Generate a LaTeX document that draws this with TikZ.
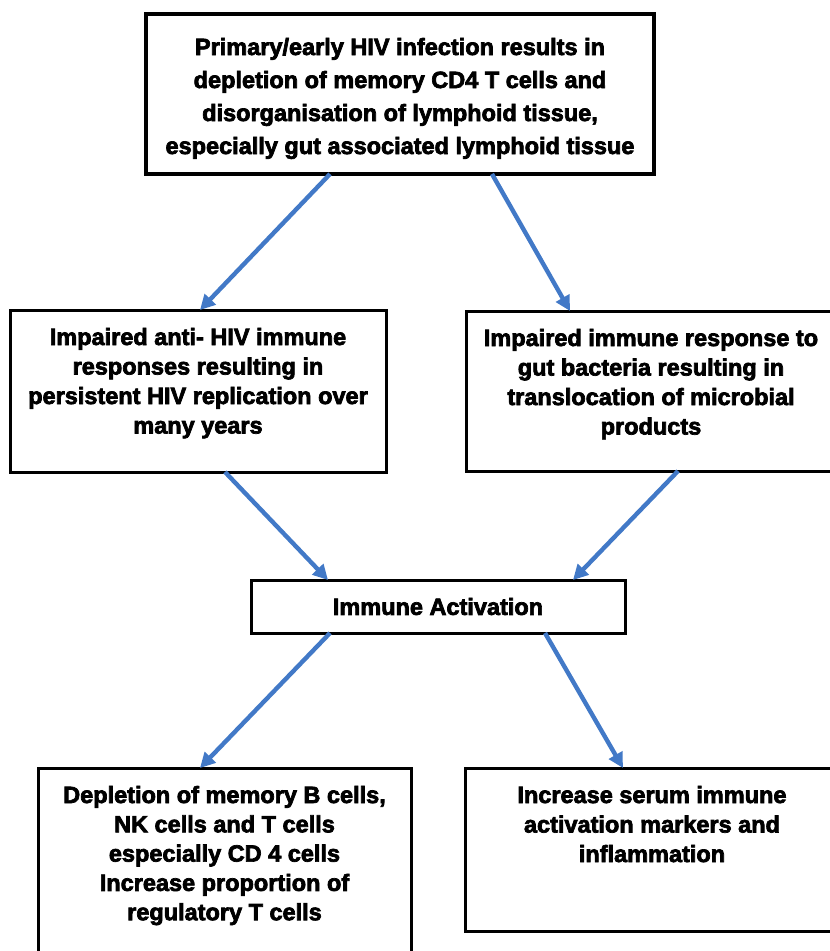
\documentclass[tikz,border=0pt]{standalone}
\usepackage{fontspec}
\setmainfont{Liberation Sans}[BoldFeatures={FakeBold=3}]
\usetikzlibrary{arrows.meta}
\definecolor{arrowblue}{RGB}{66,121,199}
\tikzset{
  box/.style={draw=black, line width=3pt, inner sep=0pt, outer sep=0pt, fill=white},
  flow/.style={draw=arrowblue, line width=4.4pt, -{Triangle[length=15pt,width=15pt]}},
}
\begin{document}
\begin{tikzpicture}[x=1pt,y=-1pt]
\useasboundingbox (0,0) rectangle (830,951);
\clip (0,0) rectangle (830,951);
\node[box, line width=3.5pt] (top) at (400,94)
  {\parbox[c][160pt][t]{508pt}{\centering\fontsize{23.5}{33}\selectfont\bfseries\vspace*{16pt}%
   \rule{0pt}{25pt}Primary/early HIV infection results in\\
   depletion of memory CD4 T cells and\\
   disorganisation of lymphoid tissue,\\
   especially gut associated lymphoid tissue}};
\node[box] (lm) at (198,391)
  {\parbox[c][162pt][t]{376pt}{\centering\fontsize{23.5}{29.5}\selectfont\bfseries\vspace*{10pt}%
   \rule{0pt}{25pt}Impaired anti- HIV immune\\
   responses resulting in\\
   persistent HIV replication over\\
   many years}};
\node[box] (rm) at (651,391)
  {\parbox[c][160pt][t]{370pt}{\centering\fontsize{23.5}{29.5}\selectfont\bfseries\vspace*{10pt}%
   \rule{0pt}{25pt}Impaired immune response to\\
   gut bacteria resulting in\\
   translocation of microbial\\
   products}};
\node[box] (ia) at (438,606.5)
  {\parbox[c][53pt][c]{374pt}{\centering\fontsize{23.5}{29.5}\selectfont\bfseries Immune Activation}};
\node[box] (bl) at (224.5,873)
  {\parbox[c][210pt][t]{373pt}{\centering\fontsize{23.5}{29.3}\selectfont\bfseries\vspace*{10pt}%
   \rule{0pt}{25pt}Depletion of memory B cells,\\
   NK cells and T cells\\
   especially CD 4 cells\\
   Increase proportion of\\
   regulatory T cells}};
\node[box] (br) at (652,849.5)
  {\parbox[c][163pt][t]{374pt}{\centering\fontsize{23.5}{29.5}\selectfont\bfseries\vspace*{10pt}%
   \rule{0pt}{25pt}Increase serum immune\\
   activation markers and\\
   inflammation}};
\draw[flow] ([xshift=-70pt]top.south) -- ([xshift=2pt]lm.north);
\draw[flow] ([xshift=92pt]top.south) -- ([xshift=-81pt]rm.north);
\draw[flow] ([xshift=27pt]lm.south) -- ([xshift=-110pt]ia.north);
\draw[flow] ([xshift=27pt]rm.south) -- ([xshift=135pt]ia.north);
\draw[flow] ([xshift=-108pt]ia.south) -- ([xshift=-24.5pt]bl.north);
\draw[flow] ([xshift=107pt]ia.south) -- ([xshift=-29pt]br.north);
\end{tikzpicture}
\end{document}
